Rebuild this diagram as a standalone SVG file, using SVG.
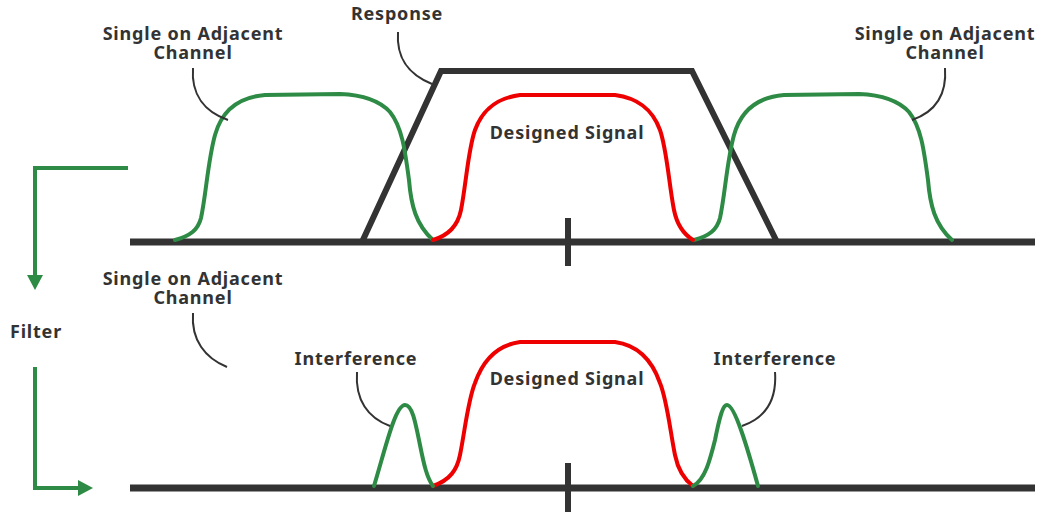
<svg xmlns="http://www.w3.org/2000/svg" width="1043" height="515" viewBox="0 0 1043 515">
<defs>
<style>
.axis{stroke:#333;stroke-width:7;fill:none}
.tick{stroke:#333;stroke-width:6;fill:none}
.resp{stroke:#333;stroke-width:6;fill:none;stroke-linejoin:miter}
.grn{stroke:#2e8b45;stroke-width:4;fill:none;stroke-linecap:round}
.red{stroke:#ee0000;stroke-width:4;fill:none;stroke-linecap:round}
.lead{stroke:#333;stroke-width:2;fill:none}
.flow{stroke:#2e8b45;stroke-width:4;fill:none}
text{font-family:"Noto Sans","Liberation Sans",sans-serif;font-weight:700;font-size:18px;letter-spacing:0.8px;fill:#333;text-anchor:middle}
</style>
<marker id="ah" markerUnits="userSpaceOnUse" markerWidth="16" markerHeight="18" refX="1" refY="9" orient="auto" viewBox="0 0 16 18">
<path d="M0,1 L15,9 L0,17 Z" fill="#2e8b45"/>
</marker>
</defs>
<rect width="1043" height="515" fill="#fff"/>

<g id="top-axis">
<line class="axis" x1="130" y1="242" x2="1035" y2="242"/>
<line class="tick" x1="568" y1="218" x2="568" y2="266"/>
</g>
<g id="response">
<path class="resp" d="M362,242 L441,71 L692,71 L777,242"/>
<text x="397" y="20">Response</text>
</g>
<g id="top-adjacent-left">
<path class="grn" d="M175,240 C190,236 198,230 201,218 C206,195 208,160 215,135 C222,110 240,97 265,95 L340,94 C365,95 380,101 390,112 C402,127 405,150 409,180 C411,205 416,225 433,240"/>
<text x="193" y="40">Single on Adjacent<tspan x="193" dy="19">Channel</tspan></text>
</g>
<g id="top-adjacent-right">
<path class="grn" transform="translate(519,0)" d="M175,240 C190,236 198,230 201,218 C206,195 208,160 215,135 C222,110 240,97 265,95 L340,94 C365,95 380,101 390,112 C402,127 405,150 409,180 C411,205 416,225 433,240"/>
<text x="945" y="40">Single on Adjacent<tspan x="945" dy="19">Channel</tspan></text>
</g>
<g id="top-designed">
<path class="red" d="M433,240 C450,235 458,225 461,210 C466,185 468,150 475,130 C483,108 498,98 520,95 L615,95 C637,98 652,108 660,130 C667,150 669,185 674,210 C677,225 685,235 693,240"/>
<text x="567" y="139">Designed Signal</text>
</g>

<g id="filter">
<text x="36" y="338">Filter</text>
</g>

<g id="bottom-axis">
<line class="axis" x1="130" y1="488" x2="1035" y2="488"/>
<line class="tick" x1="568" y1="463" x2="568" y2="512"/>
</g>
<g id="bottom-adjacent">
<text x="193" y="285">Single on Adjacent<tspan x="193" dy="19">Channel</tspan></text>
</g>
<g id="bottom-designed">
<path class="red" d="M433,486 C450,480 457,470 460,455 C465,430 468,400 475,383 C483,360 498,345 520,342 L615,342 C637,345 652,360 660,383 C667,400 670,430 675,455 C678,470 685,480 693,486"/>
<text x="567" y="385">Designed Signal</text>
</g>
<g id="interference-left">
<path class="grn" d="M374,486 C385,450 395,405 405,405 C412,405 415,420 420,445 C424,465 427,478 433,486"/>
<text x="356" y="365">Interference</text>
</g>
<g id="interference-right">
<path class="grn" d="M693,486 C705,480 710,460 715,440 C720,415 723,405 727,405 C735,405 748,450 758,486"/>
<text x="775" y="365">Interference</text>
</g>

<g id="connectors">
<path class="flow" d="M128,168 L35,168 L35,276" marker-end="url(#ah)"/>
<path class="flow" d="M35,367 L35,488 L79,488" marker-end="url(#ah)"/>
<path class="lead" d="M398,32 C396,60 410,75 432,84"/>
<path class="lead" d="M193,68 C191,95 205,112 228,120"/>
<path class="lead" d="M945,68 C947,95 935,112 912,120"/>
<path class="lead" d="M193,313 C191,340 205,358 227,367"/>
<path class="lead" d="M357,372 C355,400 368,418 390,426"/>
<path class="lead" d="M775,372 C777,400 765,418 742,426"/>
</g>
</svg>
